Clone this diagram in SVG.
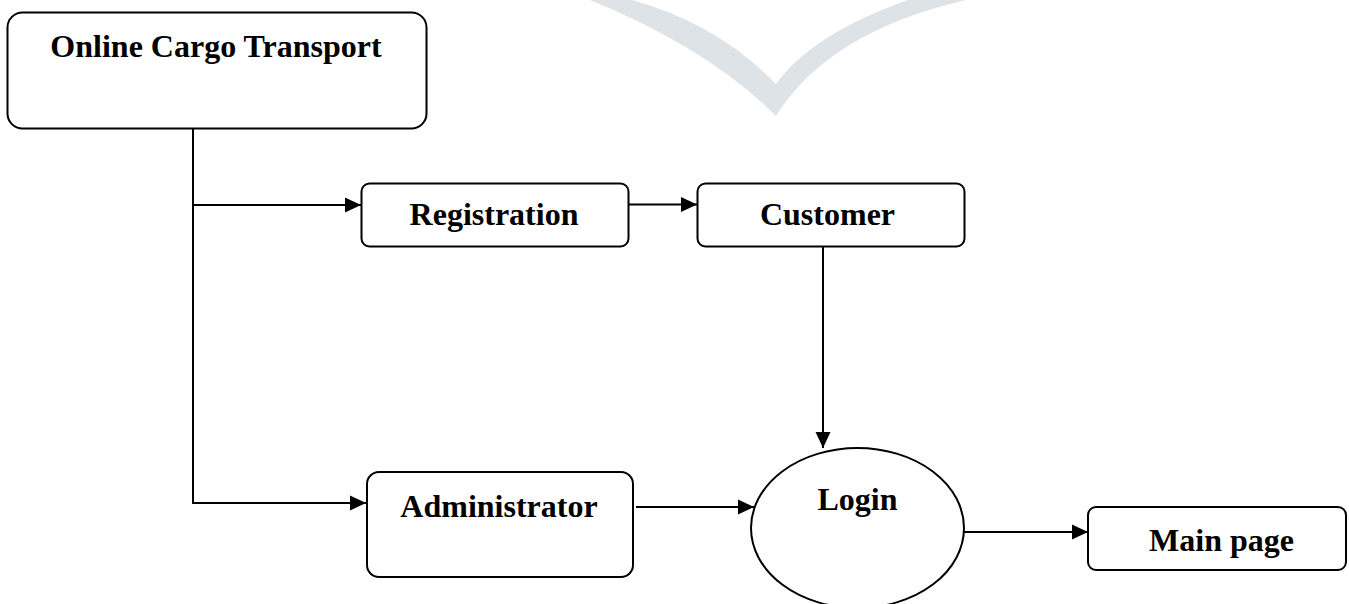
<svg xmlns="http://www.w3.org/2000/svg" width="1349" height="604" viewBox="0 0 1349 604">
<style>
.box{fill:#fff;stroke:#000;stroke-width:2}
.lbl{font-family:"Liberation Serif","Times New Roman",serif;font-weight:bold;font-size:32px;fill:#000;text-anchor:middle}
.con{fill:none;stroke:#000;stroke-width:2}
</style>
<defs>
<marker id="arr" markerUnits="userSpaceOnUse" markerWidth="16" markerHeight="16" refX="16" refY="8" orient="auto">
<path d="M0,0.5 L16,8 L0,15.5 Z" fill="#000"/>
</marker>
</defs>
<rect width="1349" height="604" fill="#fff"/>
<g id="watermark" fill="#dee3e8">
<path d="M590 0 Q708 48 776 116 L776 84 Q718 24 632 0 Z"/>
<path d="M776 116 Q828 32 966 0 L908 0 Q812 34 776 84 Z"/>
</g>
<g id="connectors">
<path class="con" d="M193 128 V503 H366" marker-end="url(#arr)"/>
<path class="con" d="M193 205 H361" marker-end="url(#arr)"/>
<path class="con" d="M628 204.5 H697" marker-end="url(#arr)"/>
<path class="con" d="M823 247 V448" marker-end="url(#arr)"/>
<path class="con" d="M636 507 H754" marker-end="url(#arr)"/>
<path class="con" d="M964 532 H1088" marker-end="url(#arr)"/>
</g>
<g id="online-cargo-transport">
<rect class="box" x="7.5" y="12.5" width="419" height="116" rx="15"/>
<text class="lbl" x="216" y="57">Online Cargo Transport</text>
</g>
<g id="registration">
<rect class="box" x="361.5" y="183.5" width="267" height="63" rx="8"/>
<text class="lbl" x="494" y="225">Registration</text>
</g>
<g id="customer">
<rect class="box" x="697.5" y="183.5" width="267" height="63" rx="8"/>
<text class="lbl" x="827.5" y="225">Customer</text>
</g>
<g id="administrator">
<rect class="box" x="367" y="472" width="266" height="105" rx="12"/>
<text class="lbl" x="499" y="517">Administrator</text>
</g>
<g id="login">
<ellipse class="box" cx="857.5" cy="528" rx="106.5" ry="80"/>
<text class="lbl" x="857.5" y="510">Login</text>
</g>
<g id="main-page">
<rect class="box" x="1088" y="507" width="258" height="63" rx="8"/>
<text class="lbl" x="1221.5" y="551">Main page</text>
</g>
</svg>
